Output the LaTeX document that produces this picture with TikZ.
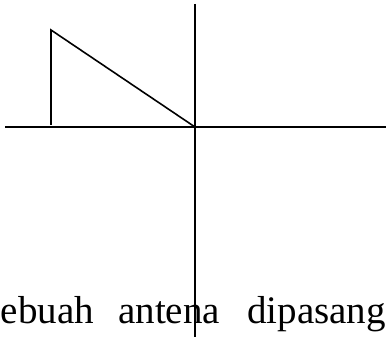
\documentclass[tikz,border=0pt]{standalone}
\usepackage{fontspec}
\setmainfont{Liberation Serif}
\begin{document}
\begin{tikzpicture}[x=1pt,y=-1pt,
  axis/.style={line width=1.6pt,black},
  word/.style={anchor=base west,inner sep=0pt,font=\fontsize{39}{44}\selectfont}]
\useasboundingbox (0,0) rectangle (386,337);
\coordinate (vtop) at (195,4);
\coordinate (vbot) at (195,337);
\coordinate (hleft) at (5,127);
\coordinate (hright) at (386,127);
\coordinate (o) at (195,127);
\coordinate (ptop) at (51,30);
\coordinate (pbot) at (51,125);
\node[word] (w1) at (0.5,323) {ebuah};
\node[word] (w2) at (118,323) {antena};
\node[word] (w3) at (247,323) {dipasang};
\draw[axis] (vtop) -- (vbot);
\draw[axis] (hleft) -- (hright);
\draw[axis] (pbot) -- (ptop) -- (o);
\end{tikzpicture}
\end{document}
